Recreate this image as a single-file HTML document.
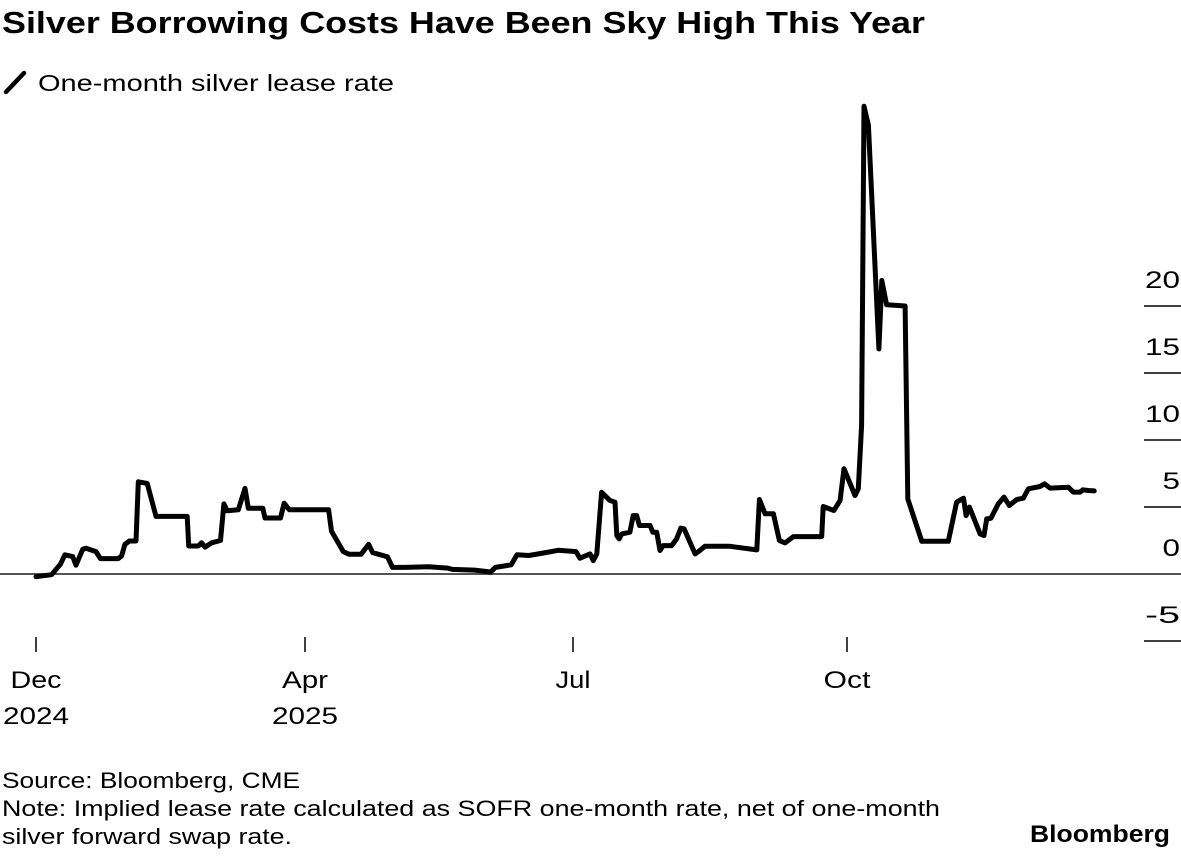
<!DOCTYPE html>
<html><head><meta charset="utf-8"><style>
html,body{margin:0;padding:0;background:#fff;}
body{width:1181px;height:856px;overflow:hidden;font-family:"Liberation Sans",Arial,sans-serif;color:#000;}
</style></head><body>
<svg id="chart" width="1181" height="856" xmlns="http://www.w3.org/2000/svg" font-family="Liberation Sans, Arial, sans-serif">
<text x="2" y="33" font-size="31" font-weight="bold" textLength="923" lengthAdjust="spacingAndGlyphs">Silver Borrowing Costs Have Been Sky High This Year</text>
<g>
<line x1="6" y1="92" x2="24" y2="73" stroke="#000" stroke-width="4.5" stroke-linecap="round"/>
<text x="38" y="91" font-size="23" textLength="356" lengthAdjust="spacingAndGlyphs">One-month silver lease rate</text>
</g>
<g id="yaxis"></g>
<g id="xaxis"></g>
<g id="series"></g>
<text x="2" y="788" font-size="22" textLength="298" lengthAdjust="spacingAndGlyphs">Source: Bloomberg, CME</text>
<text x="2" y="816" font-size="22" textLength="938" lengthAdjust="spacingAndGlyphs">Note: Implied lease rate calculated as SOFR one-month rate, net of one-month</text>
<text x="2" y="844" font-size="22" textLength="290" lengthAdjust="spacingAndGlyphs">silver forward swap rate.</text>
<text x="1030" y="842" font-size="24" font-weight="bold" textLength="140" lengthAdjust="spacingAndGlyphs">Bloomberg</text>
</svg>
<script>
// days since 2024-12-01
const days = [0,7,11,13,16.5,18,21,22.5,27,29,37,38.5,40,42,45,46,50,54,68,68.7,73,74.5,76,79,83,84.5,86,91,94,95.5,102,103,110,111.6,114,129,130,134,136,140,142.6,144,149,150.7,155,163,169.5,171,178.6,184,185.7,191,193,197,202,207,213,214.3,217.7,218.8,220,221.6,224.4,226.1,226.7,227.5,228.4,231.1,232.2,233.4,234.3,237.9,238.8,240.1,241.2,242.3,245.1,246.8,248.2,249.3,253,254.6,256.3,264.7,273.7,274.6,276.5,279.3,281.3,283.2,286,295.5,296,299.6,301.7,303,306.7,307.8,308.9,309.7,311.2,314.7,315.7,317.3,323.5,324.4,329.1,338,340.8,343.1,344,345.1,348.7,350,350.9,352.3,354.8,356.7,358.5,361,363.2,364.9,368.8,370.3,372.2,378.3,380,382.3,383.2,385,387];
const rates = [-0.2,-0.05,0.74,1.43,1.3,0.66,1.84,1.92,1.67,1.15,1.15,1.35,2.21,2.46,2.46,6.88,6.76,4.3,4.3,2.09,2.09,2.33,2.01,2.33,2.5,5.23,4.72,4.79,6.39,4.91,4.91,4.18,4.18,5.28,4.79,4.79,3.19,1.67,1.47,1.47,2.21,1.6,1.28,0.49,0.49,0.54,0.44,0.34,0.29,0.15,0.49,0.69,1.43,1.38,1.57,1.77,1.67,1.18,1.5,1.0,1.5,6.1,5.49,5.36,2.87,2.62,2.99,3.12,4.36,4.36,3.62,3.62,3.12,3.12,1.75,2.12,2.12,2.62,3.42,3.37,1.5,1.75,2.07,2.07,1.8,5.56,4.49,4.49,2.49,2.32,2.79,2.79,5.04,4.74,5.49,7.86,5.86,6.36,11.1,34.9,33.5,16.8,21.9,20.1,20.0,5.6,2.44,2.44,5.36,5.66,4.36,4.99,2.99,2.87,4.11,4.16,5.24,5.74,5.11,5.56,5.66,6.36,6.53,6.73,6.41,6.48,6.11,6.11,6.28,6.23,6.2];
const xTickDays = [0,121,212,304];
const xTickMonths = ["Dec","Apr","Jul","Oct"];
const xTickYears = ["2024","2025","",""];
const yTicks = [20,15,10,5,0,-5];

const NS="http://www.w3.org/2000/svg";
const xPix=[36,305,573,847];
function xScale(d){
  let i=0; while(i<xTickDays.length-2 && d>xTickDays[i+1]) i++;
  const d0=xTickDays[i],d1=xTickDays[i+1],p0=xPix[i],p1=xPix[i+1];
  return p0+(d-d0)*(p1-p0)/(d1-d0);
}
function yScale(v){return 574-v*13.4;}
function mk(tag,attrs,parent){const e=document.createElementNS(NS,tag);for(const k in attrs)e.setAttribute(k,attrs[k]);parent.appendChild(e);return e;}

const ya=document.getElementById('yaxis');
yTicks.forEach(t=>{
  const y=yScale(t);
  const ln=mk('line',{x1:t===0?0:1144,x2:1181,y1:y,y2:y,stroke:t===0?'#555':'#000','stroke-width':t===0?2:1.5},ya);
  
  
  const s=String(t);
  const tx=mk('text',{x:1180,y:y-18,'font-size':24,'text-anchor':'end',textLength:s.length*17.5,lengthAdjust:'spacingAndGlyphs'},ya);
  tx.textContent=s;
  
  
});
const monthW={"Dec":51,"Apr":46,"Jul":35,"Oct":47};
const xa=document.getElementById('xaxis');
xTickDays.forEach((d,i)=>{
  const x=xScale(d);
  const tk=mk('line',{x1:x,x2:x,y1:637,y2:652,stroke:'#000','stroke-width':1.5},xa);
  
  
  const t1=mk('text',{x:x,y:688,'font-size':24,'text-anchor':'middle',textLength:monthW[xTickMonths[i]],lengthAdjust:'spacingAndGlyphs'},xa);
  t1.textContent=xTickMonths[i];
  
  
  if(xTickYears[i]){
    const t2=mk('text',{x:x,y:724,'font-size':24,'text-anchor':'middle',textLength:66,lengthAdjust:'spacingAndGlyphs'},xa);
    t2.textContent=xTickYears[i];
    
    
  }
});
const sg=document.getElementById('series');
const pts=days.map((d,i)=>xScale(d).toFixed(1)+','+yScale(rates[i]).toFixed(1)).join(' ');
const pl=mk('polyline',{points:pts,fill:'none',stroke:'#000','stroke-width':5,'stroke-linejoin':'round','stroke-linecap':'round'},sg);


</script>
</body></html>
